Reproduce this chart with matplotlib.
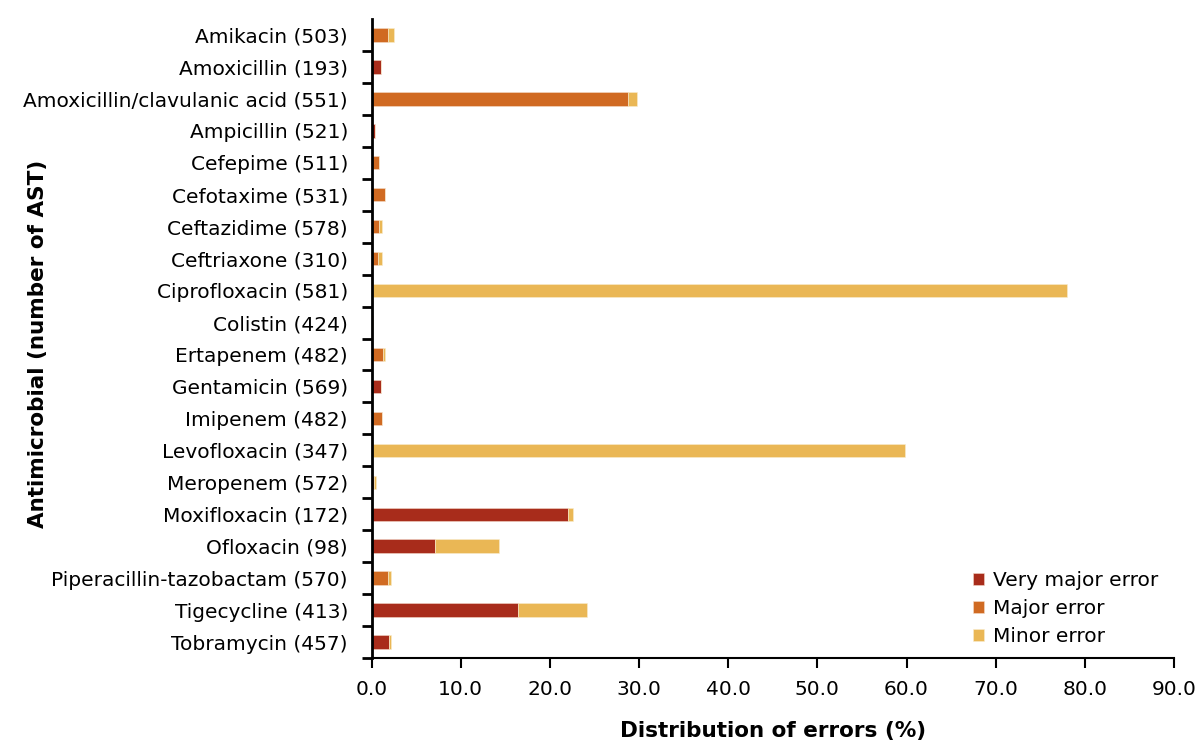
import numpy as np
import matplotlib.pyplot as plt
from matplotlib.ticker import FixedLocator

drugs = ["Amikacin (503)", "Amoxicillin (193)", "Amoxicillin/clavulanic acid (551)",
         "Ampicillin (521)", "Cefepime (511)", "Cefotaxime (531)", "Ceftazidime (578)",
         "Ceftriaxone (310)", "Ciprofloxacin (581)", "Colistin (424)", "Ertapenem (482)",
         "Gentamicin (569)", "Imipenem (482)", "Levofloxacin (347)", "Meropenem (572)",
         "Moxifloxacin (172)", "Ofloxacin (98)", "Piperacillin-tazobactam (570)",
         "Tigecycline (413)", "Tobramycin (457)"]
very_major = [0, 1.1, 0, 0.4, 0, 0, 0, 0, 0, 0.2, 0, 1.1, 0, 0, 0,
              22.0, 7.1, 0, 16.4, 2.0]
major = [1.8, 0, 28.8, 0, 0.8, 1.5, 0.8, 0.7, 0, 0, 1.3, 0, 1.2, 0, 0.3,
         0, 0, 1.8, 0, 0]
minor = [0.7, 0, 1.0, 0, 0, 0, 0.4, 0.5, 78.0, 0, 0.2, 0, 0, 59.8, 0.2,
         0.6, 7.2, 0.4, 7.8, 0.2]

c_vme = "#A82C1B"
c_maj = "#D06A22"
c_min = "#EAB755"

fig = plt.figure(figsize=(11.97, 7.47), dpi=100)
ax = fig.add_axes([0.3104, 0.1191, 0.6704, 0.8555])

y = np.arange(len(drugs))
vm = np.array(very_major)
mj = np.array(major)
mn = np.array(minor)
h = 0.42
ax.barh(y, vm, height=h, color=c_vme, edgecolor="#f3d6c8", linewidth=0.4, label="Very major error")
ax.barh(y, mj, left=vm, height=h, color=c_maj, edgecolor="#f5dcc8", linewidth=0.4, label="Major error")
ax.barh(y, mn, left=vm + mj, height=h, color=c_min, edgecolor="#f8ecd0", linewidth=0.4, label="Minor error")

ax.set_ylim(len(drugs) - 0.5, -0.5)
ax.set_xlim(0, 90)
ax.set_yticks(y)
ax.set_yticklabels(drugs, fontsize=14.5)
ax.yaxis.set_minor_locator(FixedLocator(np.arange(len(drugs)) + 0.5))
ax.tick_params(axis="y", which="major", length=0, pad=17)
ax.tick_params(axis="y", which="minor", length=7, width=2, direction="out")
ax.set_xticks(np.arange(0, 91, 10))
ax.set_xticklabels([f"{v:.1f}" for v in np.arange(0, 91, 10)], fontsize=14.5)
ax.tick_params(axis="x", length=7, width=1.5, direction="out", pad=9)

for s in ["top", "right"]:
    ax.spines[s].set_visible(False)
ax.spines["left"].set_linewidth(2)
ax.spines["bottom"].set_linewidth(1.5)

ax.set_xlabel("Distribution of errors (%)", fontsize=15.5, fontweight="bold", labelpad=16)
fig.text(0.032, 0.54, "Antimicrobial (number of AST)", rotation=90, fontsize=15.5,
         fontweight="bold", ha="center", va="center")

ax.legend(loc="lower right", frameon=False, fontsize=14.5, handlelength=0.55,
          handleheight=0.55, handletextpad=0.45, labelspacing=0.45,
          bbox_to_anchor=(0.995, 0.0), borderaxespad=0.2)

fig.savefig("out.png", dpi=100)
